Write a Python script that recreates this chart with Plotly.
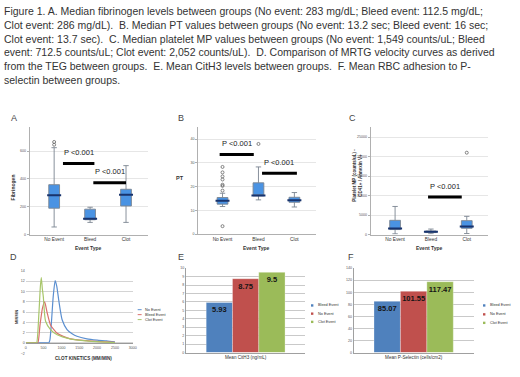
import plotly.graph_objects as go

W, H = 520, 377
def fx(p): return p / W
def fy(p): return 1 - p / H

# ---------------- data ----------------
caption_lines = [
    "Figure 1. A. Median fibrinogen levels between groups (No event: 283 mg/dL; Bleed event: 112.5 mg/dL;",
    "Clot event: 286 mg/dL).  B. Median PT values between groups (No event: 13.2 sec; Bleed event: 16 sec;",
    "Clot event: 13.7 sec).  C. Median platelet MP values between groups (No event: 1,549 counts/uL; Bleed",
    "event: 712.5 counts/uL; Clot event: 2,052 counts/uL).  D. Comparison of MRTG velocity curves as derived",
    "from the TEG between groups.  E. Mean CitH3 levels between groups.  F. Mean RBC adhesion to P-",
    "selectin between groups.",
]
event_cats = ["No Event", "Bleed", "Clot"]

# A: fibrinogen
fib_low = [54, 87, 87]
fib_q1 = [189, 106, 205]
fib_med = [283, 112.5, 286]
fib_q3 = [358, 182, 325]
fib_high = [624, 196, 495]
fib_out_x = ["No Event", "No Event"]
fib_out_y = [645, 665]
fib_ticks = [0, 200, 400, 600]

# B: PT
pt_low = [11.6, 14.4, 11.4]
pt_q1 = [12.6, 16.1, 13.4]
pt_med = [14.0, 16.3, 14.2]
pt_q3 = [15.4, 21.6, 15.5]
pt_high = [17.2, 28.3, 17.5]
pt_out_x = ["No Event"] * 8 + ["Bleed"]
pt_out_y = [18.3, 20.3, 20.8, 23.0, 24.3, 26.0, 28.3, 3.3, 38.0]
pt_ticks = [0, 10, 20, 30, 40]

# C: platelet MP
mp_low = [180, 200, 250]
mp_q1 = [1270, 500, 1600]
mp_med = [1549, 712.5, 2052]
mp_q3 = [3640, 900, 3560]
mp_high = [7200, 1400, 4660]
mp_out_x = ["Clot"]
mp_out_y = [21000]
mp_ticks = [0, 5000, 10000, 15000, 20000, 25000]

# significance brackets: (from, to, height)
sig_A = [(0.245, 1.12, 511), (1.09, 2.0, 372)]
sig_B = [(-0.08, 0.87, 33.5), (1.1, 2.07, 25.6)]
sig_C = [(0.92, 1.86, 9600)]
sig_label = "P <0.001"

# D: velocity curves
d_names = ["No Event", "Bleed Event", "Clot Event"]
d_no_x = [0, 600, 640, 675, 720, 770, 825, 870, 925, 1020, 1158, 1300, 1436, 1714, 2000, 2270, 2500]
d_no_y = [0, 0, 0, 0.5, 4.0, 9.0, 12.1, 11.0, 8.3, 4.5, 2.6, 1.8, 1.3, 0.8, 0.55, 0.4, 0.2]
d_bl_x = [0, 300, 340, 400, 470, 528, 560, 603, 694, 800, 881, 1050, 1250, 1700, 2100, 2500]
d_bl_y = [0, 0, 0, 3.5, 6.8, 8.0, 7.2, 5.8, 3.5, 2.5, 1.9, 1.3, 0.8, 0.45, 0.25, 0.1]
d_cl_x = [0, 280, 306, 369, 410, 436, 465, 492, 556, 694, 881, 1250, 1700, 2100, 2500]
d_cl_y = [0, 0, 0, 5.8, 11.0, 12.7, 10.5, 9.0, 4.2, 2.6, 1.6, 0.8, 0.4, 0.2, 0.05]
d_yticks = [-2, 0, 2, 4, 6, 8, 10, 12, 14]
d_xticks = [0, 500, 1000, 1500, 2000, 2500, 3000]

# E / F: bar charts
bar_names = ["Bleed Event", "No Event", "Clot Event"]
e_cat = "Mean CitH3 (ng/mL)"
e_vals = [5.93, 8.75, 9.5]
f_cat = "Mean P-Selectin (cells/cm2)"
f_vals = [85.07, 101.55, 117.47]

# ---------------- styles ----------------
FONT = "Liberation Sans"
box_fill = "#4a93e3"
box_line = "#7a8591"
median_col = "#17336e"
bar_cols = ["#4F81BD", "#C0504D", "#9BBB59"]
curve_cols = ["#5b8fd0", "#d9706c", "#a8c66a"]

fig = go.Figure()

def add_box(ax, low, q1, med, q3, high, out_x, out_y):
    xa = "x" if ax == 1 else f"x{ax}"
    ya = "y" if ax == 1 else f"y{ax}"
    fig.add_trace(go.Box(
        x=event_cats, q1=q1, median=med, q3=q3, lowerfence=low, upperfence=high,
        xaxis=xa, yaxis=ya, width=0.3, whiskerwidth=0.5, boxpoints=False,
        fillcolor=box_fill, line=dict(color=box_line, width=0.9), showlegend=False,
        hoverinfo="skip"))
    fig.add_trace(go.Scatter(
        x=event_cats, y=med, mode="markers", xaxis=xa, yaxis=ya, showlegend=False,
        marker=dict(symbol="line-ew", size=10, line=dict(width=2, color=median_col)),
        hoverinfo="skip"))
    fig.add_trace(go.Scatter(
        x=out_x, y=out_y, mode="markers", xaxis=xa, yaxis=ya, showlegend=False,
        marker=dict(symbol="circle-open", size=3, color="#666",
                    line=dict(width=0.8, color="#666")),
        hoverinfo="skip"))

add_box(1, fib_low, fib_q1, fib_med, fib_q3, fib_high, fib_out_x, fib_out_y)
add_box(2, pt_low, pt_q1, pt_med, pt_q3, pt_high, pt_out_x, pt_out_y)
add_box(3, mp_low, mp_q1, mp_med, mp_q3, mp_high, mp_out_x, mp_out_y)

shapes = []
annotations = []
for ax, sig in ((1, sig_A), (2, sig_B), (3, sig_C)):
    xr = "x" if ax == 1 else f"x{ax}"
    yr = "y" if ax == 1 else f"y{ax}"
    for x0, x1, yv in sig:
        shapes.append(dict(type="line", xref=xr, yref=yr, x0=x0, x1=x1, y0=yv, y1=yv,
                           line=dict(color="black", width=3)))
        annotations.append(dict(xref=xr, yref=yr, x=(x0 + x1) / 2, y=yv, yshift=11,
                                text=sig_label, showarrow=False,
                                font=dict(family=FONT, size=7.5, color="#222")))

# D curves
for xs, ys, nm, col in ((d_no_x, d_no_y, d_names[0], curve_cols[0]),
                        (d_bl_x, d_bl_y, d_names[1], curve_cols[1]),
                        (d_cl_x, d_cl_y, d_names[2], curve_cols[2])):
    fig.add_trace(go.Scatter(x=xs, y=ys, mode="lines", name=nm, xaxis="x4", yaxis="y4",
                             line=dict(color=col, width=1.2, shape="spline", smoothing=0.6),
                             showlegend=False, hoverinfo="skip"))

# E / F bars
for ax, cat, vals in ((5, e_cat, e_vals), (6, f_cat, f_vals)):
    for i, nm in enumerate(bar_names):
        fig.add_trace(go.Bar(
            x=[cat], y=[vals[i]], name=nm, xaxis=f"x{ax}", yaxis=f"y{ax}",
            marker=dict(color=bar_cols[i], line=dict(color="#ffffff", width=0.3)),
            text=[f"<b>{vals[i]:g}</b>"], textposition="inside", insidetextanchor="end",
            textangle=0, constraintext="none",
            textfont=dict(family=FONT, size=7.5, color="#141414"),
            showlegend=False, hoverinfo="skip"))

# ---------------- axes ----------------
tick_small = dict(family=FONT, size=3.6, color="#555")
cat_font = dict(family=FONT, size=4.8, color="#333")

def box_axes(domx, domy, yr, ticks):
    xa = dict(domain=[fx(domx[0]), fx(domx[1])], range=[-0.68, 2.6], type="category",
              showgrid=False, showline=True, linecolor="#b0b0b0", linewidth=0.8,
              ticks="", tickfont=cat_font, zeroline=False, fixedrange=True)
    ya = dict(domain=[fy(domy[1]), fy(domy[0])], range=yr, tickvals=ticks,
              showgrid=True, gridcolor="#e6e6e6", gridwidth=0.6,
              showline=True, linecolor="#b0b0b0", linewidth=0.8,
              ticks="outside", ticklen=2, tickcolor="#b0b0b0",
              tickfont=tick_small, zeroline=False)
    return xa, ya

xa1, ya1 = box_axes((29, 148), (126.7, 235), [0, 770], fib_ticks)
xa2, ya2 = box_axes((199, 318), (126.7, 234.5), [0, 45], pt_ticks)
xa3, ya3 = box_axes((373.3, 492), (126.7, 235), [0, 27500], mp_ticks)
ya1["anchor"] = "x"; xa1["anchor"] = "y"
xa2["anchor"] = "y2"; ya2["anchor"] = "x2"
xa3["anchor"] = "y3"; ya3["anchor"] = "x3"
ya3["tickformat"] = "d"

xa4 = dict(domain=[fx(25), fx(133)], range=[0, 3000], tickvals=d_xticks,
           anchor="free", position=fy(345), showgrid=False, showline=True,
           linecolor="#9a9a9a", linewidth=0.8, ticks="", tickfont=tick_small, zeroline=False)
ya4 = dict(domain=[fy(355), fy(271.7)], range=[-2, 14], tickvals=d_yticks, anchor="x4",
           showgrid=True, gridcolor="#d4d4d4", gridwidth=0.7, showline=False,
           ticks="", tickfont=tick_small, zeroline=False)

def bar_axes(domx, n):
    xa = dict(domain=[fx(domx[0]), fx(domx[1])], anchor=f"y{n}", showgrid=False,
              showline=True, linecolor="#a0a0a0", linewidth=0.7, ticks="",
              tickfont=dict(family=FONT, size=4.6, color="#333"))
    return xa

xa5 = bar_axes((186.7, 307.3), 5)
ya5 = dict(domain=[fy(354.3), fy(269)], range=[0, 10], dtick=1, anchor="x5",
           showgrid=True, gridcolor="#c9c9c9", gridwidth=0.7, showline=True,
           linecolor="#a0a0a0", linewidth=0.7, ticks="", tickfont=tick_small, zeroline=False)
xa6 = bar_axes((356, 477.3), 6)
ya6 = dict(domain=[fy(354.3), fy(269)], range=[0, 140], dtick=20, anchor="x6",
           showgrid=True, gridcolor="#c9c9c9", gridwidth=0.7, showline=True,
           linecolor="#a0a0a0", linewidth=0.7, ticks="", tickfont=tick_small, zeroline=False)

# ---------------- text ----------------
for i, line in enumerate(caption_lines):
    annotations.append(dict(xref="paper", yref="paper", x=fx(1.5), y=fy(9 + i * 14.0),
                            xanchor="left", yanchor="middle", text=line, showarrow=False,
                            font=dict(family=FONT, size=10.5, color="#333")))

panel_letters = [("A", 13.5, 117), ("B", 182, 117), ("C", 355, 117),
                 ("D", 13, 258), ("E", 182, 258), ("F", 353, 258)]
for t, x, y in panel_letters:
    annotations.append(dict(xref="paper", yref="paper", x=fx(x), y=fy(y), text=t,
                            showarrow=False, xanchor="center", yanchor="middle",
                            font=dict(family=FONT, size=9, color="#444")))

def label(text, x, y, size=5, angle=0, bold=True, color="#333", xanchor="center"):
    annotations.append(dict(xref="paper", yref="paper", x=fx(x), y=fy(y),
                            text=f"<b>{text}</b>" if bold else text, textangle=angle,
                            showarrow=False, xanchor=xanchor, yanchor="middle",
                            font=dict(family=FONT, size=size, color=color)))

label("Event Type", 88, 249)
label("Event Type", 258, 249)
label("Event Type", 433, 249)
label("Fibrinogen", 12.5, 187, angle=-90)
label("PT", 180.5, 178, size=5.5)
label("Platelet MP (counts/uL) -<br>CD41+ / Annexin V+", 360, 175, size=4.5, angle=-90)
label("MM/MIN", 15.5, 318, size=3.8, angle=-90)
label("CLOT KINETICS (MM/MIN)", 83, 360, size=4.6)

# manual legends
def legend(names, cols, x, ys, kind):
    for nm, col, y in zip(names, cols, ys):
        if kind == "line":
            shapes.append(dict(type="line", xref="paper", yref="paper",
                               x0=fx(x), x1=fx(x + 4), y0=fy(y), y1=fy(y),
                               line=dict(color=col, width=1)))
        else:
            shapes.append(dict(type="rect", xref="paper", yref="paper",
                               x0=fx(x), x1=fx(x + 2.4), y0=fy(y + 1.2), y1=fy(y - 1.2),
                               fillcolor=col, line=dict(width=0)))
        annotations.append(dict(xref="paper", yref="paper", x=fx(x + 5), y=fy(y),
                                text=nm, showarrow=False, xanchor="left", yanchor="middle",
                                font=dict(family=FONT, size=3.8, color="#333")))

legend(d_names, curve_cols, 138, [311, 316, 321], "line")
legend(bar_names, bar_cols, 313, [306.7, 315, 323.3], "rect")
legend(bar_names, bar_cols, 486.7, [306.7, 315.7, 324.3], "rect")

fig.update_layout(
    width=W, height=H, margin=dict(l=0, r=0, t=0, b=0),
    paper_bgcolor="white", plot_bgcolor="white",
    xaxis=xa1, yaxis=ya1, xaxis2=xa2, yaxis2=ya2, xaxis3=xa3, yaxis3=ya3,
    xaxis4=xa4, yaxis4=ya4, xaxis5=xa5, yaxis5=ya5, xaxis6=xa6, yaxis6=ya6,
    barmode="group", bargap=0.34, bargroupgap=0,
    uniformtext=dict(minsize=7, mode="show"),
    shapes=shapes, annotations=annotations, showlegend=False,
    font=dict(family=FONT),
)

fig.write_html("out.html", config={"displayModeBar": False},
               post_script="document.body.style.margin='0px';")
